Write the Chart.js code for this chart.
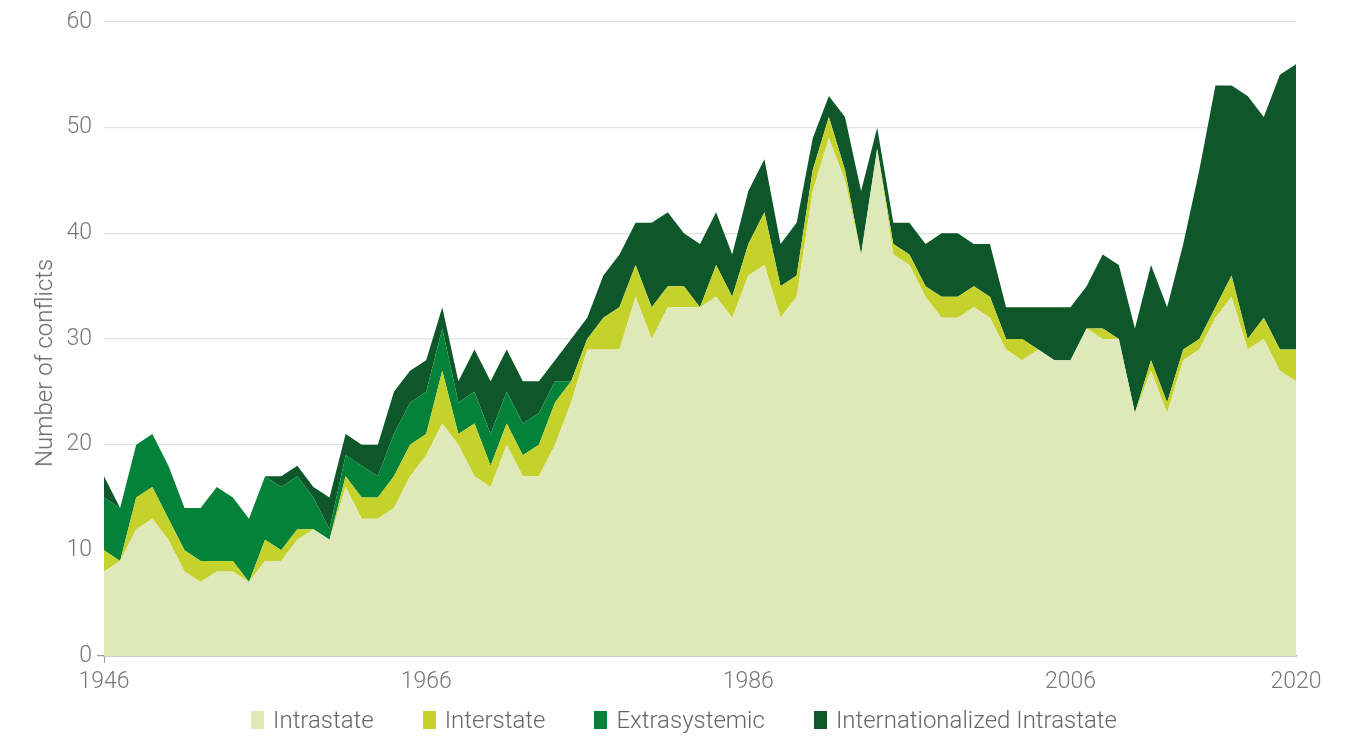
<!DOCTYPE html>
<html lang="en">
<head>
    <meta charset="UTF-8">
    <title>State-based conflicts by type, 1946-2020</title>
    <script src="https://cdn.jsdelivr.net/npm/chart.js"></script>
    <style>
        html, body { margin: 0; padding: 0; background: #fff; }
        .chart-box { width: 1348px; height: 736px; position: relative; font-family: Roboto, "Open Sans", sans-serif; }
        .y-title {
            position: absolute;
            left: 44px;
            top: 363px;
            transform: translate(-50%, -50%) rotate(-90deg);
            white-space: nowrap;
            font-size: 24px;
            font-weight: 300;
            color: #666;
        }
        .legenda {
            position: absolute;
            left: 10px;
            top: 706px;
            width: 1348px;
            display: flex;
            justify-content: center;
            gap: 49px;
            font-size: 24px;
            font-weight: 300;
            color: #666;
        }
        .legenda .item { display: flex; align-items: center; }
        .legenda .caixa { width: 13px; height: 18px; margin-right: 9px; }
    </style>
</head>
<body>
<div class="chart-box">
    <canvas id="graficoConflitos"></canvas>
    <div class="y-title">Number of conflicts</div>
    <div class="legenda" id="legenda"></div>
</div>
<script>
    // anos 1946..2020
    const anos = [];
    for (let a = 1946; a <= 2020; a++) anos.push(a);

    const intrastate = [
        8, 9, 12, 13, 11, 8, 7, 8, 8, 7,
        9, 9, 11, 12, 11, 16, 13, 13, 14, 17,
        19, 22, 20, 17, 16, 20, 17, 17, 20, 24,
        29, 29, 29, 34, 30, 33, 33, 33, 34, 32,
        36, 37, 32, 34, 44, 49, 45, 38, 48, 38,
        37, 34, 32, 32, 33, 32, 29, 28, 29, 28,
        28, 31, 30, 30, 23, 27, 23, 28, 29, 32,
        34, 29, 30, 27, 26
    ];
    const interstate = [
        2, 0, 3, 3, 2, 2, 2, 1, 1, 0,
        2, 1, 1, 0, 0, 1, 2, 2, 3, 3,
        2, 5, 1, 5, 2, 2, 2, 3, 4, 2,
        1, 3, 4, 3, 3, 2, 2, 0, 3, 2,
        3, 5, 3, 2, 2, 2, 1, 0, 0, 1,
        1, 1, 2, 2, 2, 2, 1, 2, 0, 0,
        0, 0, 1, 0, 0, 1, 1, 1, 1, 1,
        2, 1, 2, 2, 3
    ];
    const extrasystemic = [
        5, 5, 5, 5, 5, 4, 5, 7, 6, 6,
        6, 6, 5, 3, 1, 2, 3, 2, 4, 4,
        4, 4, 3, 3, 3, 3, 3, 3, 2, 0,
        0, 0, 0, 0, 0, 0, 0, 0, 0, 0,
        0, 0, 0, 0, 0, 0, 0, 0, 0, 0,
        0, 0, 0, 0, 0, 0, 0, 0, 0, 0,
        0, 0, 0, 0, 0, 0, 0, 0, 0, 0,
        0, 0, 0, 0, 0
    ];
    const internacionalizado = [
        2, 0, 0, 0, 0, 0, 0, 0, 0, 0,
        0, 1, 1, 1, 3, 2, 2, 3, 4, 3,
        3, 2, 2, 4, 5, 4, 4, 3, 2, 4,
        2, 4, 5, 4, 8, 7, 5, 6, 5, 4,
        5, 5, 4, 5, 3, 2, 5, 6, 2, 2,
        3, 4, 6, 6, 4, 5, 3, 3, 4, 5,
        5, 4, 7, 7, 8, 9, 9, 10, 16, 21,
        18, 23, 19, 26, 27
    ];

    const anosComRotulo = [1946, 1966, 1986, 2006, 2020];
    const ticksY = [0, 10, 20, 30, 40, 50, 60];

    const series = [
        { nome: 'Intrastate', valores: intrastate, cor: '#dfe8b8' },
        { nome: 'Interstate', valores: interstate, cor: '#c5d22b' },
        { nome: 'Extrasystemic', valores: extrasystemic, cor: '#05823a' },
        { nome: 'Internationalized Intrastate', valores: internacionalizado, cor: '#0e572b' }
    ];

    // legenda em HTML, montada a partir das séries
    const legenda = document.getElementById('legenda');
    series.forEach(s => {
        const item = document.createElement('div');
        item.className = 'item';
        item.innerHTML = `<span class="caixa" style="background:${s.cor}"></span><span>${s.nome}</span>`;
        legenda.appendChild(item);
    });

    Chart.defaults.font.family = 'Roboto, "Open Sans", sans-serif';
    Chart.defaults.font.weight = 300;

    new Chart(document.getElementById('graficoConflitos'), {
        type: 'line',
        data: {
            datasets: series.map((s, i) => ({
                label: s.nome,
                data: s.valores.map((v, k) => ({ x: anos[k], y: v })),
                backgroundColor: s.cor,
                borderColor: s.cor,
                borderWidth: 0,
                pointRadius: 0,
                tension: 0,
                fill: i === 0 ? 'origin' : '-1'
            }))
        },
        options: {
            responsive: true,
            maintainAspectRatio: false,
            animation: false,
            layout: {
                padding: { left: 0, right: 52, top: 22, bottom: 40 }
            },
            plugins: {
                legend: { display: false },
                tooltip: { enabled: false }
            },
            scales: {
                x: {
                    type: 'linear',
                    min: 1946,
                    max: 2020,
                    afterBuildTicks: scale => {
                        scale.ticks = anosComRotulo.map(v => ({ value: v }));
                    },
                    afterFit: scale => { scale.height = 40; },
                    grid: {
                        drawOnChartArea: false,
                        tickLength: 7,
                        tickColor: ctx => ctx.tick && ctx.tick.value === 1946 ? '#999' : 'rgba(0,0,0,0)'
                    },
                    border: { display: true, color: '#999', width: 1.5 },
                    ticks: {
                        color: '#777',
                        padding: 5,
                        maxRotation: 0,
                        font: { size: 23, weight: 300 },
                        callback: v => String(v)
                    }
                },
                y: {
                    stacked: true,
                    min: 0,
                    max: 60,
                    afterBuildTicks: scale => {
                        scale.ticks = ticksY.map(v => ({ value: v }));
                    },
                    afterFit: scale => { scale.width = 104; },
                    grid: {
                        color: ctx => ctx.tick && ctx.tick.value === 0 ? 'rgba(0,0,0,0)' : '#e2e2e2',
                        lineWidth: 1.2,
                        tickLength: 7,
                        tickColor: ctx => ctx.tick && ctx.tick.value === 0 ? '#999' : 'rgba(0,0,0,0)'
                    },
                    border: { display: false },
                    ticks: {
                        color: '#777',
                        padding: 5,
                        font: { size: 23, weight: 300 }
                    }
                }
            }
        }
    });
</script>
</body>
</html>
